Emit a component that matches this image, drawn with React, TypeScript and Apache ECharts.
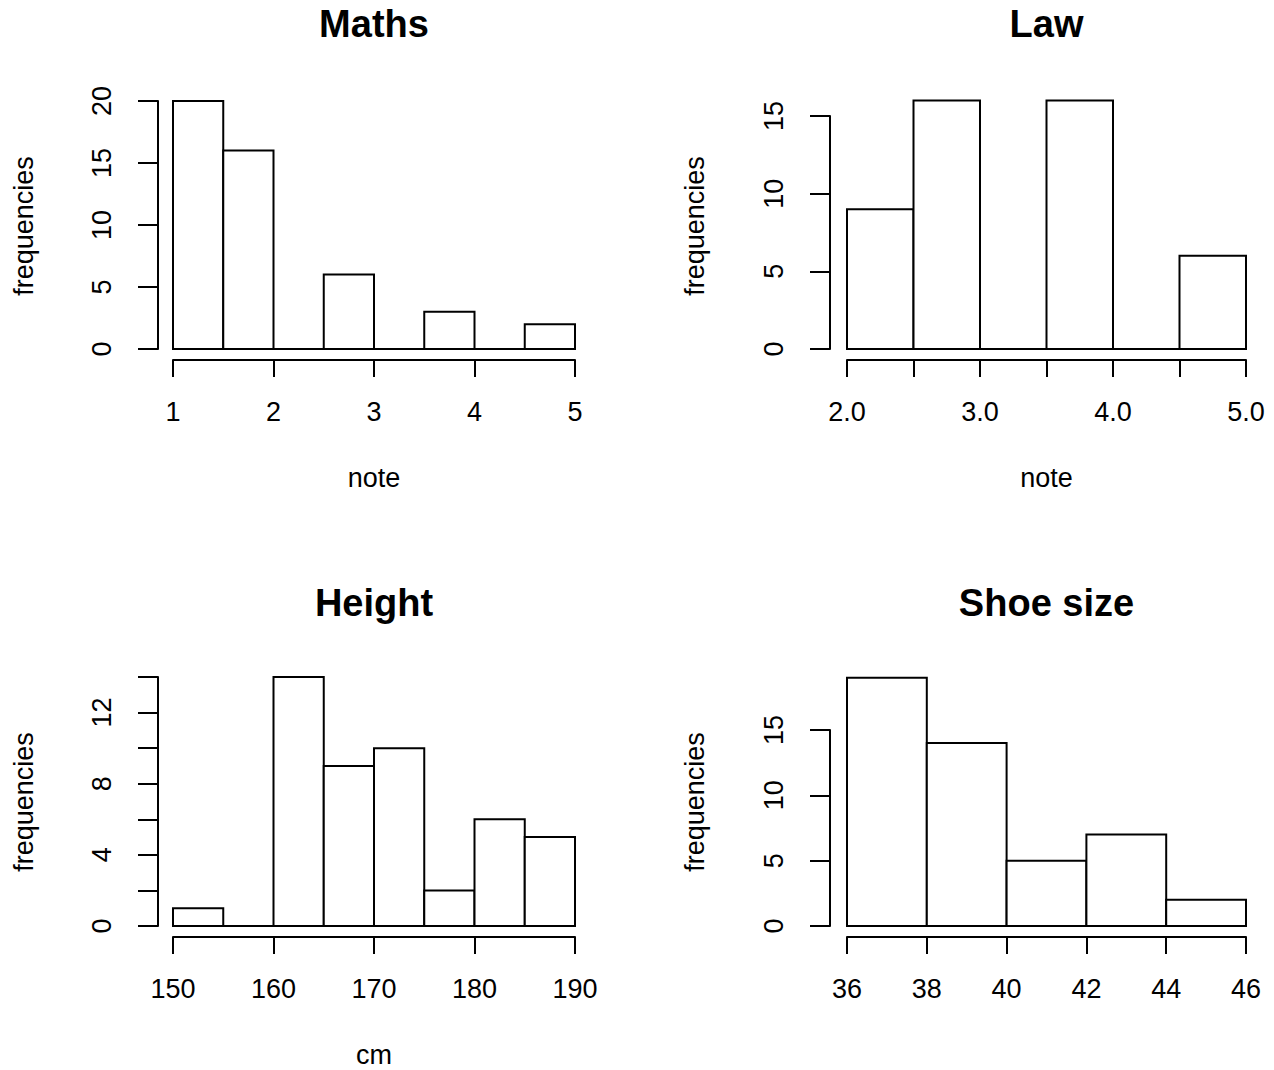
import React, { useEffect, useRef } from "react";
import * as echarts from "echarts";

// ---- Data (histogram bins: lower edge, upper edge, count) ----
const mathsBreaks = [1, 1.5, 2, 2.5, 3, 3.5, 4, 4.5, 5];
const mathsCounts = [20, 16, 0, 6, 0, 3, 0, 2];

const lawBreaks = [2, 2.5, 3, 3.5, 4, 4.5, 5];
const lawCounts = [9, 16, 0, 16, 0, 6];

const heightBreaks = [150, 155, 160, 165, 170, 175, 180, 185, 190];
const heightCounts = [1, 0, 14, 9, 10, 2, 6, 5];

const shoeBreaks = [36, 38, 40, 42, 44, 46];
const shoeCounts = [19, 14, 5, 7, 2];

const titles = ["Maths", "Law", "Height", "Shoe size"];
const xNames = ["note", "note", "cm", ""];
const yName = "frequencies";

const FONT = "'Liberation Sans', Arial, sans-serif";

function bins(breaks: number[], counts: number[]) {
  return counts.map((c, i) => [breaks[i], breaks[i + 1], c]);
}

export default function App() {
  const ref = useRef<HTMLDivElement>(null);

  useEffect(() => {
    if (!ref.current) return;
    const chart = echarts.init(ref.current, null, { renderer: "svg" });

    const grids = [
      { left: 173, top: 101, width: 402, height: 248 },
      { left: 847, top: 116, width: 399, height: 233 },
      { left: 173, top: 677, width: 402, height: 249 },
      { left: 847, top: 730, width: 399, height: 196 },
    ];

    const xCfg = [
      { min: 1, max: 5, interval: 1, fmt: (v: number) => String(v) },
      {
        min: 2,
        max: 5,
        interval: 0.5,
        fmt: (v: number) =>
          Math.abs(v - Math.round(v)) < 1e-9 ? v.toFixed(1) : "",
      },
      { min: 150, max: 190, interval: 10, fmt: (v: number) => String(v) },
      { min: 36, max: 46, interval: 2, fmt: (v: number) => String(v) },
    ];

    const yCfg = [
      { max: 20, interval: 5, fmt: (v: number) => String(v), offset: 15 },
      { max: 15, interval: 5, fmt: (v: number) => String(v), offset: 17 },
      {
        max: 14,
        interval: 2,
        fmt: (v: number) => (v % 4 === 0 ? String(v) : ""),
        offset: 15,
      },
      { max: 15, interval: 5, fmt: (v: number) => String(v), offset: 17 },
    ];

    const data = [
      bins(mathsBreaks, mathsCounts),
      bins(lawBreaks, lawCounts),
      bins(heightBreaks, heightCounts),
      bins(shoeBreaks, shoeCounts),
    ];

    const axisLine = {
      show: true,
      onZero: false,
      lineStyle: { color: "#000", width: 2 },
    };

    const option: any = {
      animation: false,
      backgroundColor: "#fff",
      title: titles.map((t, i) => ({
        text: t,
        left: grids[i].left + grids[i].width / 2,
        top: i < 2 ? 5 : 584,
        textAlign: "center",
        padding: 0,
        textStyle: {
          fontFamily: FONT,
          fontSize: 38,
          fontWeight: "bold",
          color: "#000",
        },
      })),
      grid: grids.map((g) => ({ ...g, outerBoundsMode: "none" })),
      xAxis: xCfg.map((c, i) => ({
        type: "value",
        gridIndex: i,
        min: c.min,
        max: c.max,
        interval: c.interval,
        offset: 11,
        name: xNames[i],
        nameLocation: "middle",
        nameGap: 104,
        nameTextStyle: { fontFamily: FONT, fontSize: 27, color: "#000" },
        axisLine,
        axisTick: { show: true, length: 17, lineStyle: { color: "#000", width: 2 } },
        axisLabel: {
          formatter: c.fmt,
          margin: 38,
          fontFamily: FONT,
          fontSize: 27,
          color: "#000",
          showMinLabel: true,
          showMaxLabel: true,
        },
        splitLine: { show: false },
      })),
      yAxis: yCfg.map((c, i) => ({
        type: "value",
        gridIndex: i,
        min: 0,
        max: c.max,
        interval: c.interval,
        offset: c.offset,
        axisLine,
        axisTick: { show: true, length: 20, lineStyle: { color: "#000", width: 2 } },
        axisLabel: {
          formatter: c.fmt,
          rotate: 90,
          margin: 43,
          fontFamily: FONT,
          fontSize: 27,
          color: "#000",
          showMinLabel: true,
          showMaxLabel: true,
        },
        splitLine: { show: false },
      })),
      graphic: [
        { x: 24, y: 226 },
        { x: 695, y: 226 },
        { x: 24, y: 802 },
        { x: 695, y: 802 },
      ].map((p) => ({
        type: "text",
        x: p.x,
        y: p.y,
        rotation: Math.PI / 2,
        style: {
          text: yName,
          align: "center",
          verticalAlign: "middle",
          fontFamily: FONT,
          fontSize: 27,
          fill: "#000",
        },
      })),
      series: data.map((d, i) => ({
        type: "custom",
        xAxisIndex: i,
        yAxisIndex: i,
        clip: false,
        data: d,
        encode: { x: [0, 1], y: 2 },
        renderItem: (_params: any, api: any) => {
          const p0 = api.coord([api.value(0), api.value(2)]);
          const p1 = api.coord([api.value(1), 0]);
          return {
            type: "rect",
            shape: {
              x: p0[0],
              y: p0[1],
              width: p1[0] - p0[0],
              height: p1[1] - p0[1],
            },
            style: { fill: "#fff", stroke: "#000", lineWidth: 2 },
          };
        },
      })),
    };

    chart.setOption(option);
    return () => chart.dispose();
  }, []);

  return (
    <div
      ref={ref}
      style={{ position: "absolute", left: 0, top: 0, width: 1274, height: 1070 }}
    />
  );
}
